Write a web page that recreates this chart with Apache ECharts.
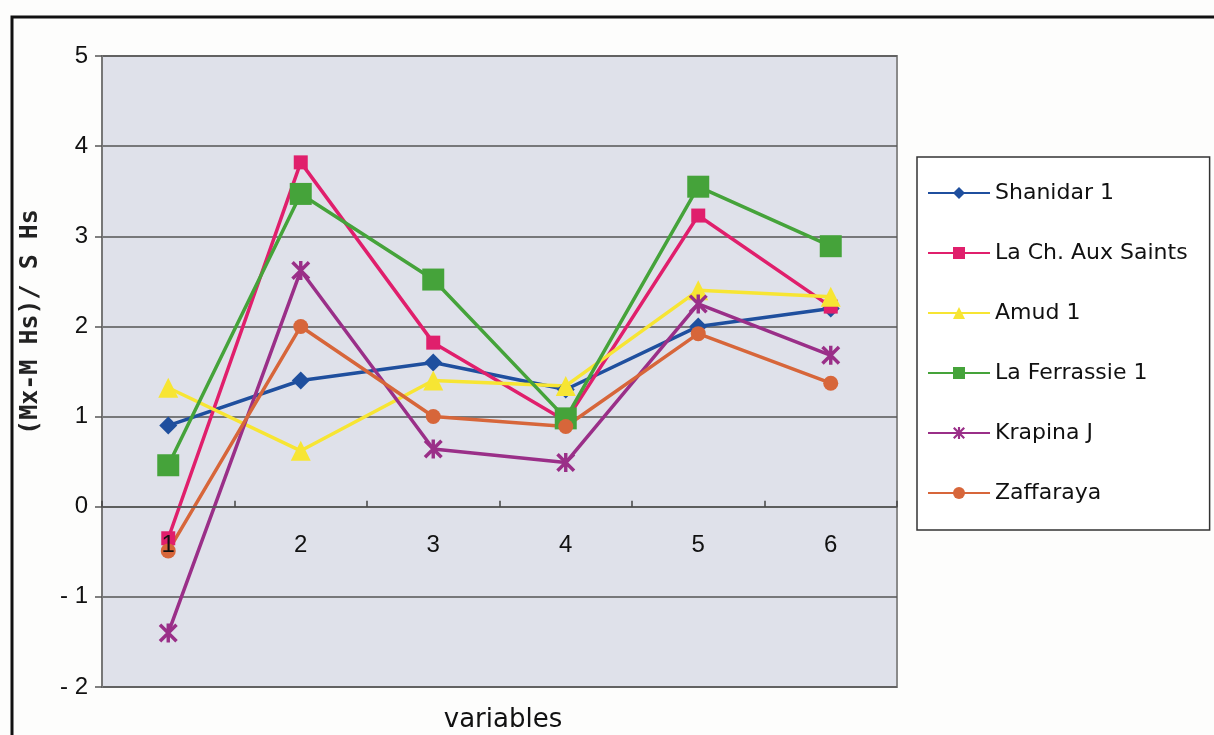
<!DOCTYPE html>
<html>
<head>
<meta charset="utf-8">
<script src="https://cdn.jsdelivr.net/npm/echarts@6/dist/echarts.min.js"></script>
<style>
  html, body { margin: 0; padding: 0; background: #fdfdfc; }
  #chart { width: 1214px; height: 735px; }
</style>
</head>
<body>
<div id="chart"></div>
<script>
// Standardised deviations (Mx - M Hs) / S Hs for six variables
const categories = ['1', '2', '3', '4', '5', '6'];
const shanidar1 = [0.9, 1.4, 1.6, 1.3, 2.0, 2.2];
const laChAuxSaints = [-0.35, 3.82, 1.82, 0.95, 3.23, 2.22];
const amud1 = [1.32, 0.62, 1.4, 1.34, 2.4, 2.33];
const laFerrassie1 = [0.46, 3.47, 2.52, 0.98, 3.55, 2.89];
const krapinaJ = [-1.4, 2.62, 0.64, 0.49, 2.25, 1.68];
const zaffaraya = [-0.49, 2.0, 1.0, 0.89, 1.92, 1.37];
const yTicks = [-2, -1, 0, 1, 2, 3, 4, 5];

const asterisk = 'path://M4.1,0 L5.9,0 L5.9,10 L4.1,10 Z M0,1.3 L1.3,0 L10,8.7 L8.7,10 Z M8.7,0 L10,1.3 L1.3,10 L0,8.7 Z';

const font = '"Liberation Sans", Arial, sans-serif';
const wideFont = '"DejaVu Sans", sans-serif';

// plot box
const gridTop = 56, gridBottom = 48, chartH = 735;
const yMin = yTicks[0], yMax = yTicks[yTicks.length - 1];
const plotH = chartH - gridTop - gridBottom;
// category axis sits on the zero line
const zeroOffset = -plotH * (0 - yMin) / (yMax - yMin);

function line(name, data, color, symbol, size) {
  return {
    name: name,
    type: 'line',
    data: data,
    symbol: symbol,
    symbolSize: size,
    showSymbol: true,
    lineStyle: { color: color, width: 3.5 },
    itemStyle: { color: color, borderWidth: 0 },
    emphasis: { disabled: true },
    z: 3
  };
}

const chart = echarts.init(document.getElementById('chart'), null, { renderer: 'canvas' });
chart.setOption({
  animation: false,
  backgroundColor: '#fdfdfc',
  grid: {
    left: 102, right: 317, top: gridTop, bottom: gridBottom,
    show: true,
    backgroundColor: '#dfe1ea',
    borderColor: '#8a8a8a',
    borderWidth: 2
  },
  legend: {
    orient: 'vertical',
    left: 917,
    top: 157,
    padding: [25, 22, 26, 10],
    itemWidth: 62,
    itemHeight: 15,
    itemGap: 38,
    backgroundColor: '#ffffff',
    borderColor: '#333',
    borderWidth: 1.5,
    textStyle: { fontFamily: wideFont, fontSize: 22, lineHeight: 22, color: '#111' },
    data: ['Shanidar 1', 'La Ch. Aux Saints', 'Amud 1', 'La Ferrassie 1', 'Krapina J', 'Zaffaraya']
  },
  xAxis: {
    type: 'category',
    data: categories,
    boundaryGap: true,
    offset: zeroOffset,
    z: 10,
    axisLine: { onZero: false, lineStyle: { color: '#555', width: 1.5 } },
    axisTick: { show: true, inside: true, length: 6, lineStyle: { color: '#444', width: 1.5 } },
    axisLabel: {
      fontFamily: font, fontSize: 24, color: '#111', margin: 27,
      interval: 0, showMinLabel: true, showMaxLabel: true, hideOverlap: false
    },
    splitLine: { show: false }
  },
  yAxis: {
    type: 'value',
    min: yMin,
    max: yMax,
    interval: 1,
    axisLine: { show: true, lineStyle: { color: '#777', width: 2 } },
    axisTick: { show: true, length: 7, lineStyle: { color: '#555', width: 1.5 } },
    axisLabel: {
      fontFamily: font, fontSize: 24, color: '#111', margin: 14,
      formatter: v => (v < 0 ? '- ' + Math.abs(v) : String(v))
    },
    splitLine: { show: true, lineStyle: { color: '#555', width: 1.5 } }
  },
  title: {
    text: 'variables',
    left: 498,
    top: 702,
    textAlign: 'center',
    textStyle: { fontFamily: wideFont, fontSize: 26, fontWeight: 'normal', color: '#111' }
  },
  graphic: [
    {
      type: 'text',
      x: 30, y: 322,
      rotation: Math.PI / 2,
      style: {
        text: '(Mx-M Hs)/ S Hs',
        font: 'bold 25px "DejaVu Sans Mono", monospace',
        fill: '#222',
        textAlign: 'center',
        textVerticalAlign: 'middle'
      }
    },
    {
      type: 'polyline',
      shape: { points: [[12, 735], [12, 17], [1214, 17]] },
      style: { stroke: '#111', lineWidth: 3, fill: null }
    }
  ],
  series: [
    line('Shanidar 1', shanidar1, '#1f4f9e', 'diamond', 18),
    line('La Ch. Aux Saints', laChAuxSaints, '#e01f6c', 'rect', 14),
    line('Amud 1', amud1, '#f7e533', 'triangle', 20),
    line('La Ferrassie 1', laFerrassie1, '#45a33a', 'rect', 22),
    line('Krapina J', krapinaJ, '#9a2f88', asterisk, 19),
    line('Zaffaraya', zaffaraya, '#d7663a', 'circle', 15)
  ]
});
</script>
</body>
</html>
